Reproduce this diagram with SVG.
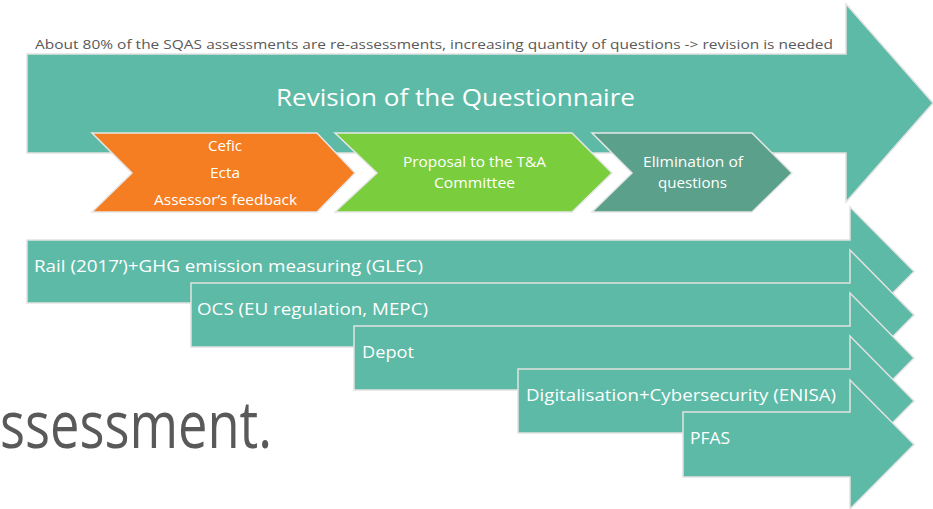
<svg xmlns="http://www.w3.org/2000/svg" width="933" height="509" viewBox="0 0 933 509">
<style>
.arr{fill:#5CBAA6;stroke:#e2e2e2;stroke-width:1.5;stroke-linejoin:miter}
.chev{stroke:#e6e6e6;stroke-width:1.5}
.w{fill:#ffffff;font-family:"Open Sans","Liberation Sans",sans-serif}
.g{fill:#595959;font-family:"Open Sans","Liberation Sans",sans-serif}
</style>
<rect width="933" height="509" fill="#ffffff"/>
<g id="bg-text">
<text class="g" x="0" y="448" font-size="66" textLength="272" lengthAdjust="spacingAndGlyphs">ssessment.</text>
</g>
<g id="main-arrow">
<polygon class="arr" points="27,54 846,54 846,4 933,103 846,202 846,153 27,153"/>
<text class="g" x="35" y="49" font-size="12.5" textLength="798" lengthAdjust="spacingAndGlyphs">About 80% of the SQAS assessments are re-assessments, increasing quantity of questions -&gt; revision is needed</text>
<text class="w" x="276" y="106" font-size="24" textLength="359" lengthAdjust="spacingAndGlyphs">Revision of the Questionnaire</text>
</g>
<g id="chevron-input">
<polygon class="chev" fill="#F47E21" points="92,133 317,133 355,173 317,212 92,212 132,173"/>
<text class="w" x="208" y="151" font-size="15" textLength="34" lengthAdjust="spacingAndGlyphs">Cefic</text>
<text class="w" x="210" y="178" font-size="15" textLength="30" lengthAdjust="spacingAndGlyphs">Ecta</text>
<text class="w" x="154" y="205" font-size="15" textLength="143" lengthAdjust="spacingAndGlyphs">Assessor’s feedback</text>
</g>
<g id="chevron-proposal">
<polygon class="chev" fill="#7ACD3C" points="335,133 572,133 612,173 572,212 335,212 377,173"/>
<text class="w" x="403" y="167" font-size="15" textLength="143" lengthAdjust="spacingAndGlyphs">Proposal to the T&amp;A</text>
<text class="w" x="434" y="188" font-size="15" textLength="81" lengthAdjust="spacingAndGlyphs">Committee</text>
</g>
<g id="chevron-elimination">
<polygon class="chev" fill="#5BA08A" points="592,133 752,133 792,173 752,212 592,212 632,173"/>
<text class="w" x="643" y="167" font-size="15" textLength="100" lengthAdjust="spacingAndGlyphs">Elimination of</text>
<text class="w" x="658" y="188" font-size="15" textLength="69" lengthAdjust="spacingAndGlyphs">questions</text>
</g>
<g id="arrow-rail">
<polygon class="arr" points="27,240 850,240 850,207 914,271.5 850,336 850,303 27,303"/>
<text class="w" x="34" y="272" font-size="17" textLength="389" lengthAdjust="spacingAndGlyphs">Rail (2017’)+GHG emission measuring (GLEC)</text>
</g>
<g id="arrow-ocs">
<polygon class="arr" points="191,283 850,283 850,250 914,315 850,380 850,347 191,347"/>
<text class="w" x="197" y="315" font-size="17" textLength="231" lengthAdjust="spacingAndGlyphs">OCS (EU regulation, MEPC)</text>
</g>
<g id="arrow-depot">
<polygon class="arr" points="354,326 850,326 850,293 914,358 850,423 850,390 354,390"/>
<text class="w" x="362" y="358" font-size="17" textLength="52" lengthAdjust="spacingAndGlyphs">Depot</text>
</g>
<g id="arrow-digital">
<polygon class="arr" points="518,369 850,369 850,336 914,401 850,466 850,433 518,433"/>
<text class="w" x="526" y="401" font-size="17" textLength="310" lengthAdjust="spacingAndGlyphs">Digitalisation+Cybersecurity (ENISA)</text>
</g>
<g id="arrow-pfas">
<polygon class="arr" points="683,412 850,412 850,380 914,444.5 850,509 850,477 683,477"/>
<text class="w" x="690" y="444" font-size="17" textLength="40" lengthAdjust="spacingAndGlyphs">PFAS</text>
</g>
<g id="connectors"/>
</svg>
